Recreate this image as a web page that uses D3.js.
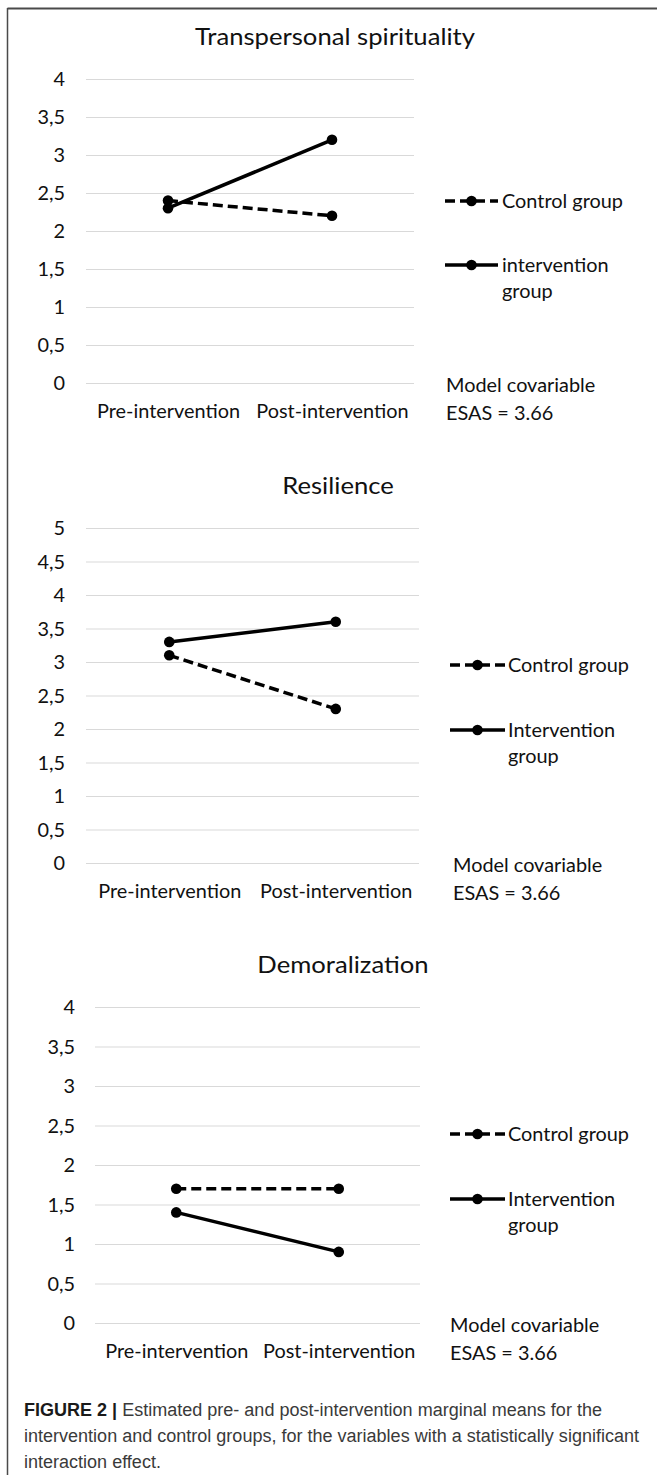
<!DOCTYPE html>
<html>
<head>
<meta charset="utf-8">
<script src="https://cdn.jsdelivr.net/npm/d3@7"></script>
<style>
  html, body { margin: 0; padding: 0; background: #fff; }
  svg { display: block; }
</style>
</head>
<body>
<svg id="fig" width="657" height="1475"></svg>
<script>
// ---------------- DATA ----------------
const categories = ["Pre-intervention", "Post-intervention"];
const chartTitles = ["Transpersonal spirituality", "Resilience", "Demoralization"];
const controlValues = [[2.4, 2.2], [3.1, 2.3], [1.7, 1.7]];
const interventionValues = [[2.3, 3.2], [3.3, 3.6], [1.4, 0.9]];
const yMaxValues = [4, 5, 4];
const yTickStep = 0.5;
const controlLegend = ["Control group"];
const interventionLegend = [["intervention", "group"], ["Intervention", "group"], ["Intervention", "group"]];
const noteLines = ["Model covariable", "ESAS = 3.66"];
const captionBold = "FIGURE 2 |";
const captionLines = [
  " Estimated pre- and post-intervention marginal means for the",
  "intervention and control groups, for the variables with a statistically significant",
  "interaction effect."
];

// ---------------- LAYOUT ----------------
const layout = [
  { gridX: [86, 414], gridTop: 79, gridBottom: 383, titleX: 335, labelRight: 65,
    legendX: [445, 498], legendTextX: 502, legendY: [201, 265], noteX: 446 },
  { gridX: [86, 419], gridTop: 528, gridBottom: 863, titleX: 338, labelRight: 65,
    legendX: [450, 505], legendTextX: 508, legendY: [665, 730], noteX: 453 },
  { gridX: [95, 420], gridTop: 1007, gridBottom: 1323, titleX: 343, labelRight: 75,
    legendX: [450, 505], legendTextX: 508, legendY: [1134, 1199], noteX: 450 }
];
const FONT = "Lato, 'Open Sans', sans-serif";
const TICK_SIZE = 18.5, TITLE_SIZE = 23;
const INK = "#111";
const LINE_W = 3.5, DASH = "10,5", R = 5.3;

const locale = d3.formatLocale({ decimal: ",", thousands: ".", grouping: [3], currency: ["", ""] });
const fmt = locale.format(".1~f");

function draw() {
  const svg = d3.select("#fig");

  // frame
  svg.append("line").attr("x1", 7.5).attr("x2", 657).attr("y1", 8.5).attr("y2", 8.5)
    .attr("stroke", "#4a4a4a").attr("stroke-width", 2);
  svg.append("line").attr("x1", 7.5).attr("x2", 7.5).attr("y1", 8).attr("y2", 1475)
    .attr("stroke", "#4a4a4a").attr("stroke-width", 1.5);

  // measuring helpers for condensed Calibri-like look
  const probe = svg.append("text").attr("font-family", FONT).attr("font-size", TICK_SIZE).text(categories[0]);
  const kTick = 143 / probe.node().getComputedTextLength();
  probe.attr("font-size", TITLE_SIZE).text(chartTitles[0]);
  const kTitle = 280 / probe.node().getComputedTextLength();
  probe.remove();
  function fit(sel, k) {
    sel.each(function () {
      const w = this.getComputedTextLength();
      d3.select(this).attr("textLength", w * k).attr("lengthAdjust", "spacingAndGlyphs");
    });
  }

  chartTitles.forEach((title, i) => {
    const L = layout[i];
    const g = svg.append("g");
    const x = d3.scalePoint().domain(categories).range(L.gridX).padding(0.5);
    const y = d3.scaleLinear().domain([0, yMaxValues[i]]).range([L.gridBottom, L.gridTop]);
    const ticks = d3.range(0, yMaxValues[i] + 1e-9, yTickStep);

    // title
    g.append("text").attr("x", L.titleX).attr("y", L.gridTop - 34)
      .attr("text-anchor", "middle").attr("font-family", FONT).attr("font-size", TITLE_SIZE)
      .attr("fill", INK).text(title).call(fit, kTitle);

    // y axis with gridlines
    const yAxis = g.append("g").attr("transform", `translate(${L.gridX[0]},0)`)
      .call(d3.axisLeft(y).tickValues(ticks).tickFormat(fmt)
        .tickSize(-(L.gridX[1] - L.gridX[0])).tickPadding(L.gridX[0] - L.labelRight));
    yAxis.select(".domain").remove();
    yAxis.selectAll(".tick line").attr("stroke", "#d9d9d9").attr("stroke-width", 1);
    yAxis.selectAll(".tick text").attr("font-family", FONT).attr("font-size", TICK_SIZE)
      .attr("fill", INK).attr("dy", "0.36em").call(fit, kTick);

    // x axis labels
    const xAxis = g.append("g").attr("transform", `translate(0,${L.gridBottom})`)
      .call(d3.axisBottom(x).tickSize(0));
    xAxis.select(".domain").remove();
    xAxis.selectAll(".tick text").attr("font-family", FONT).attr("font-size", TICK_SIZE)
      .attr("fill", INK).attr("dy", null).attr("y", 35).call(fit, kTick);

    // series
    const series = [
      { values: controlValues[i], dash: DASH },
      { values: interventionValues[i], dash: null }
    ];
    const line = d3.line().x((d, j) => x(categories[j])).y(d => y(d));
    series.forEach(s => {
      g.append("path").datum(s.values).attr("d", line).attr("fill", "none")
        .attr("stroke", "#000").attr("stroke-width", LINE_W)
        .attr("stroke-dasharray", s.dash);
      g.selectAll(null).data(s.values).enter().append("circle")
        .attr("cx", (d, j) => x(categories[j])).attr("cy", d => y(d)).attr("r", R).attr("fill", "#000");
    });

    // legend
    const legendItems = [
      { lines: controlLegend, dash: DASH, y: L.legendY[0] },
      { lines: interventionLegend[i], dash: null, y: L.legendY[1] }
    ];
    legendItems.forEach(it => {
      g.append("line").attr("x1", L.legendX[0]).attr("x2", L.legendX[1])
        .attr("y1", it.y).attr("y2", it.y).attr("stroke", "#000").attr("stroke-width", LINE_W)
        .attr("stroke-dasharray", it.dash);
      g.append("circle").attr("cx", (L.legendX[0] + L.legendX[1]) / 2).attr("cy", it.y)
        .attr("r", R).attr("fill", "#000");
      it.lines.forEach((t, k) => {
        g.append("text").attr("x", L.legendTextX).attr("y", it.y + 7 + k * 26)
          .attr("font-family", FONT).attr("font-size", TICK_SIZE).attr("fill", INK)
          .text(t).call(fit, kTick);
      });
    });

    // model note
    noteLines.forEach((t, k) => {
      g.append("text").attr("x", L.noteX).attr("y", L.gridBottom + 9 + k * 28)
        .attr("font-family", FONT).attr("font-size", TICK_SIZE).attr("fill", INK)
        .text(t).call(fit, kTick);
    });
  });

  // caption
  const CAP_FONT = "'Liberation Sans', Arial, sans-serif";
  const capProbe = svg.append("text").attr("font-family", CAP_FONT).attr("font-size", 18).text(captionLines[1]);
  const kCap = 615 / capProbe.node().getComputedTextLength();
  capProbe.remove();
  captionLines.forEach((t, k) => {
    const tx = svg.append("text").attr("x", 24).attr("y", 1416 + k * 26)
      .attr("font-family", CAP_FONT).attr("font-size", 18).attr("fill", "#3a3a3a");
    if (k === 0) {
      tx.append("tspan").attr("font-weight", "bold").attr("fill", "#1a1a1a").text(captionBold);
    }
    tx.append("tspan").text(t);
    fit(tx, kCap);
  });
}

if (document.fonts && document.fonts.ready) { document.fonts.ready.then(draw); } else { draw(); }
</script>
</body>
</html>
